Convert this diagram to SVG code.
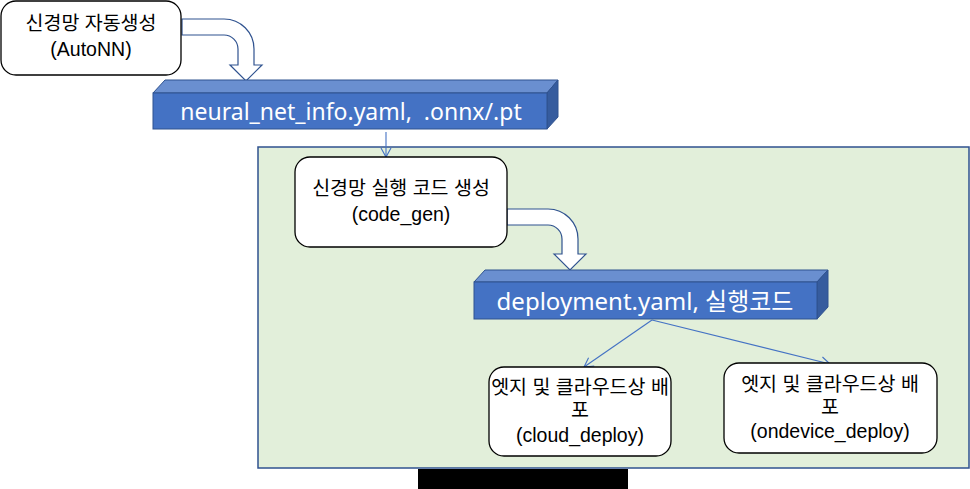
<svg xmlns="http://www.w3.org/2000/svg" width="970" height="489" viewBox="0 0 970 489">
<defs>
<style>
.node{fill:#fff;stroke:#000;stroke-width:1.3}
.t{font-family:"Liberation Sans","Noto Sans CJK KR",sans-serif;font-size:19.5px;fill:#000;text-anchor:middle}
.bt{font-family:"Noto Sans","Noto Sans CJK KR",sans-serif;font-size:23px;fill:#fff;text-anchor:middle}
.front{fill:#4472C4;stroke:#2F528F;stroke-width:1}
.top{fill:#6A8FD0;stroke:#2F528F;stroke-width:1}
.side{fill:#365C9E;stroke:#2F528F;stroke-width:1}
.bend{fill:#fff;stroke:#2F528F;stroke-width:1.2}
.conn{stroke:#4472C4;stroke-width:1.1;fill:none}
</style>
<marker id="ah" markerWidth="12" markerHeight="12" refX="10" refY="6" orient="auto" markerUnits="userSpaceOnUse">
<path d="M1,1 L10,6 L1,11" fill="none" stroke="#4472C4" stroke-width="1.1"/>
</marker>
</defs>
<rect width="970" height="489" fill="#fff"/>
<g id="panel"><rect x="258" y="147" width="711" height="321" fill="#E2EFDA" stroke="#2F528F" stroke-width="1.5"/></g>
<rect x="418" y="469" width="210" height="20" fill="#000"/>
<g id="connectors">
<path class="bend" d="M182,19 H224 A30,30 0 0 1 254,49 V65 H262 L246,81 L230,65 H238 V49 A14,14 0 0 0 224,35 H182 Z"/>
<path class="bend" d="M507,209 H548 A30,30 0 0 1 578,239 V254 H586 L570,270 L554,254 H562 V239 A14,14 0 0 0 548,225 H507 Z"/>
<line class="conn" x1="386" y1="132" x2="386" y2="157" marker-end="url(#ah)"/>
<line class="conn" x1="652" y1="320" x2="584" y2="367" marker-end="url(#ah)"/>
<line class="conn" x1="652" y1="320" x2="830" y2="364" marker-end="url(#ah)"/>
</g>
<g id="autonn">
<rect class="node" x="1" y="1" width="180" height="74" rx="15"/>
<text class="t" x="91" y="30">신경망 자동생성</text>
<text class="t" x="91" y="56">(AutoNN)</text>
</g>
<g id="nninfo">
<polygon class="top" points="153,93 165,80 558,80 547,93"/>
<polygon class="side" points="547,93 558,80 558,117 547,129"/>
<rect class="front" x="153" y="93" width="394" height="36"/>
<text class="bt" x="351" y="120">neural_net_info.yaml,&#160; .onnx/.pt</text>
</g>
<g id="codegen">
<rect class="node" x="295" y="157" width="212" height="90" rx="15"/>
<text class="t" x="401" y="195">신경망 실행 코드 생성</text>
<text class="t" x="401" y="221">(code_gen)</text>
</g>
<g id="deploy">
<polygon class="top" points="474,282 485,270 828,270 817,282"/>
<polygon class="side" points="817,282 828,270 828,307 817,319"/>
<rect class="front" x="474" y="282" width="343" height="37"/>
<text class="bt" x="645" y="310" style="font-size:24px">deployment.yaml, 실행코드</text>
</g>
<g id="cloud">
<rect class="node" x="489" y="367" width="182" height="89" rx="15"/>
<text class="t" x="580" y="394">엣지 및 클라우드상 배</text>
<text class="t" x="580" y="417">포</text>
<text class="t" x="580" y="442">(cloud_deploy)</text>
</g>
<g id="ondevice">
<rect class="node" x="724" y="363" width="213" height="90" rx="15"/>
<text class="t" x="830" y="391">엣지 및 클라우드상 배</text>
<text class="t" x="830" y="414">포</text>
<text class="t" x="830" y="438">(ondevice_deploy)</text>
</g>
</svg>
